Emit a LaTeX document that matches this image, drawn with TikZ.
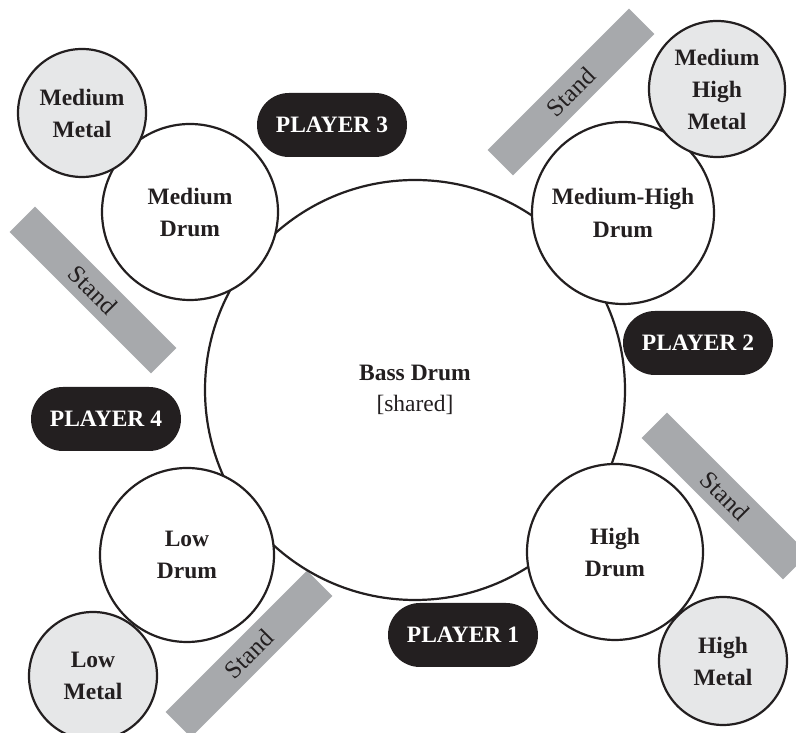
\documentclass[tikz,border=0pt]{standalone}
\usepackage{fontspec}
\setmainfont{Liberation Serif}
\usetikzlibrary{shapes.misc}
\definecolor{ink}{HTML}{231F20}
\definecolor{metalfill}{HTML}{E6E7E8}
\definecolor{standgray}{HTML}{A7A9AC}
\begin{document}
\begin{tikzpicture}[x=1pt,y=1pt,
  drum/.style={circle, draw=ink, line width=2.2pt, fill=white, minimum size=#1, inner sep=0pt, align=center, text=ink, font=\fontsize{23.5}{32}\selectfont\bfseries},
  metal/.style={drum=#1, fill=metalfill},
  player/.style={rounded rectangle, fill=ink, text=white, minimum width=150pt, minimum height=64pt, inner sep=0pt, font=\fontsize{23.5}{26}\selectfont\bfseries},
  standbox/.style={rectangle, fill=standgray, minimum width=200pt, minimum height=36pt, inner sep=0pt, text=ink, font=\fontsize{25}{26}\selectfont}]
\useasboundingbox (0,0) rectangle (796,733);
\fill[white] (0,0) rectangle (796,733);
% stands
\node[standbox, rotate=45]  (stTR) at (571,641) {Stand};
\node[standbox, rotate=-45] (stL)  at (93,443)  {Stand};
\node[standbox, rotate=-45] (stR)  at (725,237) {Stand};
\node[standbox, rotate=45]  (stB)  at (249,79)  {Stand};
% bass drum
\node[drum=420pt, font=\fontsize{23.5}{31}\selectfont] (bass) at (415,343) {\textbf{Bass Drum}\\{[shared]}};
% drums
\node[drum=176pt] (mdrum)  at (190,521) {Medium\\Drum};
\node[drum=182pt] (mhdrum) at (623,520) {Medium-High\\Drum};
\node[drum=174pt] (ldrum)  at (187,178) {Low\\Drum};
\node[drum=176pt] (hdrum)  at (615,181) {High\\Drum};
% metals
\node[metal=128pt] (mmetal)  at (82,620)  {Medium\\Metal};
\node[metal=136pt] (mhmetal) at (717,644) {Medium\\High\\Metal};
\node[metal=128pt] (lmetal)  at (93,57)   {Low\\Metal};
\node[metal=128pt] (hmetal)  at (723,72)  {High\\Metal};
% players
\node[player] (p3) at (332,608) {PLAYER 3};
\node[player] (p2) at (698,390) {PLAYER 2};
\node[player] (p4) at (106,314) {PLAYER 4};
\node[player] (p1) at (463,98)  {PLAYER 1};
\end{tikzpicture}
\end{document}
